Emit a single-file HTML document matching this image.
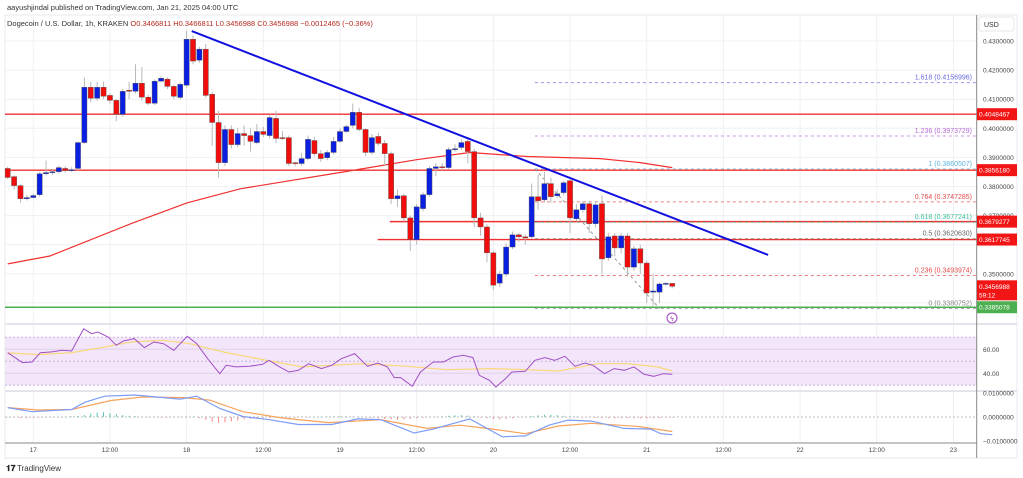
<!DOCTYPE html>
<html><head><meta charset="utf-8"><style>
body{margin:0;background:#fff;width:1023px;height:478px;overflow:hidden}
svg{display:block;font-family:"Liberation Sans",sans-serif}
</style></head><body>
<svg id="c" width="1023" height="478" viewBox="0 0 1023 478">
<text x="7" y="10" font-size="7.5" fill="#333">aayushjindal published on TradingView.com, Jan 21, 2025 04:00 UTC</text>
<rect x="5" y="15" width="1012" height="443" fill="none" stroke="#e6e8ee"/>
<g id="grid"></g>
<g id="main"></g>
<g id="rsi"></g>
<g id="macd"></g>
<g id="axes"></g>
<text x="7" y="26" font-size="7.5" fill="#333">Dogecoin / U.S. Dollar, 1h, KRAKEN <tspan fill="#b52a1f">O0.3466811  H0.3466811  L0.3456988  C0.3456988  −0.0012465 (−0.36%)</tspan></text>
<g><text x="6" y="471" font-size="8.5" font-weight="bold" fill="#222">𝟏𝟕</text><text x="17" y="471" font-size="8" fill="#333">TradingView</text></g>
</svg>
<script>
const opens=[.3862,.3834,.3803,.3758,.3762,.3772,.3844,.3848,.3851,.3862,.3855,.3862,.3951,.4141,.4103,.4141,.4113,.4096,.4048,.4131,.4127,.4155,.4107,.4086,.4162,.4169,.4144,.4106,.4148,.4306,.4234,.4272,.4117,.4020,.3882,.3996,.3944,.3982,.3975,.3951,.3989,.3975,.4034,.3968,.3968,.3882,.3879,.3896,.3958,.3913,.3899,.3917,.3955,.3989,.4010,.4055,.3996,.3917,.3972,.3948,.3913,.3758,.3768,.3692,.3617,.3724,.3772,.3862,.3868,.3865,.3927,.3934,.3955,.3920,.3692,.3661,.3572,.3468,.3499,.3592,.3634,.3627,.3627,.3765,.3754,.3810,.3768,.3779,.3820,.3689,.3720,.3741,.3672,.3741,.3555,.3630,.3589,.3630,.3523,.3586,.3537,.3437,.3437,.3465,.3467];
const closes=[.3831,.3803,.3758,.3762,.3769,.3844,.3848,.3851,.3865,.3855,.3858,.3951,.4141,.4103,.4141,.4110,.4096,.4048,.4127,.4127,.4155,.4107,.4086,.4162,.4172,.4144,.4110,.4151,.4306,.4231,.4272,.4113,.4020,.3882,.3996,.3944,.3982,.3975,.3955,.3989,.3979,.4037,.3965,.3965,.3879,.3879,.3896,.3962,.3913,.3896,.3917,.3955,.3989,.4006,.4055,.3996,.3917,.3968,.3948,.3913,.3758,.3768,.3692,.3617,.3730,.3772,.3862,.3868,.3865,.3927,.3930,.3951,.3920,.3692,.3661,.3572,.3461,.3499,.3592,.3634,.3627,.3623,.3765,.3751,.3810,.3765,.3775,.3813,.3692,.3720,.3741,.3672,.3737,.3551,.3627,.3589,.3630,.3523,.3586,.3537,.3434,.3441,.3465,.3467,.3457];
const highs=[.3868,.3838,.3808,.3770,.3775,.3850,.3889,.3860,.3872,.3870,.3866,.3955,.4175,.4160,.4160,.4160,.4120,.4100,.4135,.4160,.4220,.4210,.4115,.4168,.4178,.4175,.4150,.4158,.4335,.4320,.4280,.4290,.4125,.4060,.4010,.4010,.4000,.4010,.4000,.4015,.4005,.4048,.4060,.3990,.3975,.3885,.3915,.3975,.3970,.3925,.3925,.3970,.4000,.4012,.4085,.4070,.4000,.3980,.3985,.3960,.3920,.3790,.3775,.3700,.3740,.3780,.3870,.3880,.3880,.3935,.3945,.3962,.3970,.3930,.3710,.3670,.3580,.3510,.3605,.3645,.3640,.3635,.3810,.3840,.3850,.3830,.3790,.3820,.3830,.3740,.3750,.3750,.3750,.3770,.3640,.3640,.3640,.3640,.3595,.3600,.3545,.3500,.3470,.3472,.3468];
const lows=[.3825,.3790,.3744,.3752,.3760,.3765,.3838,.3840,.3845,.3848,.3850,.3855,.3945,.4090,.4095,.4100,.4085,.4025,.4040,.4100,.4120,.4095,.4080,.4080,.4160,.4135,.4100,.4100,.4140,.4220,.4225,.4105,.3940,.3830,.3870,.3930,.3935,.3940,.3920,.3945,.3970,.3965,.3950,.3960,.3870,.3870,.3870,.3890,.3905,.3885,.3890,.3910,.3950,.3985,.4000,.3990,.3905,.3910,.3940,.3870,.3740,.3730,.3680,.3579,.3600,.3715,.3765,.3835,.3855,.3860,.3920,.3925,.3880,.3660,.3630,.3540,.3444,.3455,.3490,.3585,.3610,.3600,.3620,.3720,.3745,.3745,.3760,.3770,.3640,.3680,.3710,.3640,.3660,.3500,.3545,.3560,.3570,.3490,.3510,.3500,.3400,.3390,.3400,.3460,.3450];
const maIdx=[0,6.6,19.6,28.1,36.4,52,64,72.3,81.3,92.7,99,104];
const maVal=[.3534,.3561,.3675,.3744,.3792,.3848,.3892,.3917,.3903,.3896,.3882,.3865];
const priceTicks=[0.43,0.42,0.41,0.40,0.39,0.38,0.37,0.35];
const timeTickIdx=[4,16,28,40,52,64,76,88,100,112,124,136,148];
const timeTickLabels=["17","12:00","18","12:00","19","12:00","20","12:00","21","12:00","22","12:00","23"];
const hLevels=[0.4048467,0.3856180,0.3679277,0.3617745];
const hStartIdx=[-1,-1,59.8,57.9];
const supportLevel=0.3385078;
const fibRatios=["1.618","1.236","1","0.764","0.618","0.5","0.236","0"];
const fibPrices=[0.4156996,0.3973729,0.3860507,0.3747285,0.3677241,0.3620630,0.3493974,0.3380752];
const fibColors=["#6a6ae0","#b56ad8","#5bb4e0","#e24a4a","#3fbf9b","#666","#e24a4a","#888"];
const trendIdx=[28.8,119];const trendVal=[0.4334,0.3565];
const rsiIdx=[0,2.3,3.8,5.1,6.9,8.5,10,11.9,13.1,14.1,15.7,17,18.1,19.8,21.4,22.9,24.4,26,28.1,29.6,31.4,33.2,34.2,35.7,37.8,39.9,40.9,42.4,44,45.5,47.1,49.1,50.7,52.2,54.3,56.3,57.9,59.4,60.5,61.5,63.3,64.6,65.6,66.6,68.2,69.7,71.3,72.8,73.8,75.4,76.4,77.9,78.9,81,82.5,84.1,85.6,87.2,88.8,90.3,91.6,93.4,94.9,96.5,98,99.6,101.1,102.6,104];
const rsiVal=[57.2,48.9,49.4,57.2,57.8,59.2,58.6,77.2,73,74.4,70.3,63.3,66.9,68.9,61.4,66.1,64.7,59.2,70.8,64.7,51.4,39.7,46.7,45.3,45.8,47.5,50.8,45.8,41.1,42.5,48,43.9,46.7,52.2,56.4,45.8,48.6,45.3,36.4,36.4,29.2,41.1,45.3,49.4,49.4,53.6,55,53.1,38.3,34.2,28.6,35.6,41.1,41.7,50.8,53.1,50.8,54.2,45.8,48.6,46.7,39.7,43.9,42.5,45.3,39.2,37.5,39.7,39.2];
const rsiMaIdx=[0,4.8,10,15.2,19.3,24.4,28.5,33.7,39.9,46,55.4,62.5,68.7,75.9,81.1,86.2,92.4,97,101.7,104];
const rsiMaVal=[57,55.6,57.2,61.9,66.1,67.5,64.7,57.8,51.4,45.3,48,45.8,43,43.9,43,41.9,48,48,45.3,41.9];
const macdIdx=[0,3.8,10,12.1,15.2,19.8,24.4,27,29.6,33.2,36.8,40.9,45.5,50.7,54.8,58.4,63.6,66.6,72.3,77.4,81,84.7,87.7,91.3,96.5,100.6,102.2,104];
const macdVal=[.0039,.0022,.0031,.0061,.0086,.0091,.0080,.0074,.0086,.0035,.0002,-.0011,-.0031,-.0031,-.0008,-.0011,-.0066,-.0050,-.0008,-.0082,-.0078,-.0034,-.0013,-.0017,-.0047,-.0050,-.0069,-.0073];
const sigIdx=[0,4.8,10,16.2,21.3,27.5,31.6,36.8,43,50.2,58.4,65.6,70.8,75.9,81,86.2,91.3,98.5,104];
const sigVal=[.0039,.0029,.0031,.0068,.0083,.0080,.0070,.0022,-.0004,-.0023,-.0011,-.0047,-.0034,-.0050,-.0069,-.0037,-.0026,-.0039,-.0060];
const histVal=[0,-.0003,-.0004,-.0005,-.0003,-.0002,-.0001,0,0,.0001,.0002,.0004,.0008,.0014,.0018,.0020,.0016,.0012,.0008,.0005,.0003,.0001,.0001,.0001,-.0001,-.0001,.0001,.0001,.0002,.0001,-.0004,-.0012,-.0020,-.0024,-.0022,-.0018,-.0014,-.0010,-.0008,-.0006,-.0005,-.0004,-.0003,-.0002,-.0002,-.0001,-.0001,-.0001,0,.0001,.0002,.0003,.0004,.0003,.0002,.0001,-.0001,-.0003,-.0006,-.0008,-.0010,-.0011,-.0010,-.0008,-.0005,-.0003,-.0001,.0001,.0003,.0005,.0007,.0008,.0006,.0003,-.0002,-.0005,-.0008,-.0010,-.0008,-.0005,-.0002,.0001,.0004,.0007,.0009,.0010,.0008,.0005,.0003,.0001,-.0001,-.0002,-.0003,-.0004,-.0005,-.0006,-.0005,-.0004,-.0005,-.0006,-.0007,-.0005,-.0004,-.0003,-.0003];

const NS="http://www.w3.org/2000/svg";
function mk(tag,attrs,parent){const e=document.createElementNS(NS,tag);for(const k in attrs)e.setAttribute(k,attrs[k]);parent.appendChild(e);return e;}
const X0=7.7,DX=6.39,RIGHT=976.7,LEFT=5;
const xs=i=>X0+DX*i;
const yP=p=>41+(0.43-p)*2910;
const yR=v=>349.3+(60-v)*1.2;
const yM=v=>417-v*2420;
const G=document.getElementById('grid'),M=document.getElementById('main'),R=document.getElementById('rsi'),MC=document.getElementById('macd'),A=document.getElementById('axes');

// grid
[0.43,0.42,0.41,0.40,0.39,0.38,0.37,0.36,0.35,0.34].forEach(p=>{const l=mk('line',{x1:LEFT,x2:RIGHT,y1:yP(p),y2:yP(p),stroke:'#eef0f4'},G);});
timeTickIdx.forEach(i=>{const l=mk('line',{x1:xs(i),x2:xs(i),y1:16,y2:443,stroke:'#eef0f4'},G);});
// pane separators
[324,391].forEach(y=>{const l=mk('line',{x1:LEFT,x2:1017,y1:y,y2:y,stroke:'#e3e5ea','stroke-width':2},G);});

// horizontal levels
hLevels.forEach((p,k)=>{const l=mk('line',{x1:hStartIdx[k]<0?LEFT:xs(hStartIdx[k]),x2:RIGHT,y1:yP(p),y2:yP(p),stroke:'#f03030','stroke-width':1.4},M);});
{const l=mk('line',{x1:LEFT,x2:RIGHT,y1:yP(supportLevel),y2:yP(supportLevel),stroke:'#4caf50','stroke-width':1.4},M);}
// fib
const fibStart=82.5;
fibPrices.forEach((p,k)=>{const y=yP(p);const l=mk('line',{x1:xs(fibStart),x2:RIGHT,y1:y,y2:y,stroke:fibColors[k],'stroke-dasharray':'3 3','stroke-opacity':0.7},M);
const t=mk('text',{x:972,y:y-3,'text-anchor':'end','font-size':7,fill:fibColors[k]},M);t.textContent=fibRatios[k]+' ('+p.toFixed(7)+')';});
{const l=mk('line',{x1:xs(fibStart),y1:yP(fibPrices[2]),x2:xs(102),y2:yP(fibPrices[7]),stroke:'#999','stroke-dasharray':'3 3'},M);}
// MA
{let d='';maIdx.forEach((i,k)=>{d+=(k?'L':'M')+xs(i).toFixed(1)+','+yP(maVal[k]).toFixed(1);});const p=mk('path',{d:d,fill:'none',stroke:'#f23030','stroke-width':1.2},M);}
// candles
opens.forEach((o,i)=>{const c=closes[i];const up=c>=o;const col=up?'#0a1fe0':'#f20d0d';const x=xs(i);
const w=mk('line',{x1:x,x2:x,y1:yP(highs[i]),y2:yP(lows[i]),stroke:'#b8b8b8','stroke-width':1},M);
const top=yP(Math.max(o,c)),bot=yP(Math.min(o,c));
const r=mk('rect',{x:x-2.6,y:top,width:5.2,height:Math.max(1,bot-top),fill:col,stroke:'#555','stroke-width':0.4},M);});
// trendline
{const l=mk('line',{x1:xs(trendIdx[0]),y1:yP(trendVal[0]),x2:xs(trendIdx[1]),y2:yP(trendVal[1]),stroke:'#1010e0','stroke-width':2},M);}
// flash icon
{const g=mk('g',{},M);mk('circle',{cx:672,cy:318,r:5,fill:'none',stroke:'#a040c0','stroke-width':1},g);const t=mk('text',{x:672,y:321,'text-anchor':'middle','font-size':7,fill:'#a040c0'},g);t.textContent='ϟ';}

// RSI
{const b=mk('rect',{x:LEFT,y:yR(70),width:RIGHT-LEFT,height:yR(30)-yR(70),fill:'#f3e6fb'},R);
[70,50,30].forEach(v=>{const l=mk('line',{x1:LEFT,x2:RIGHT,y1:yR(v),y2:yR(v),stroke:'#c9b3dc','stroke-dasharray':'2 2'},R);});
[60,40].forEach(v=>{const l=mk('line',{x1:LEFT,x2:RIGHT,y1:yR(v),y2:yR(v),stroke:'#e0d2ea'},R);});
let d='';rsiMaIdx.forEach((i,k)=>{d+=(k?'L':'M')+xs(i).toFixed(1)+','+yR(rsiMaVal[k]).toFixed(1);});const p=mk('path',{d:d,fill:'none',stroke:'#f8d878','stroke-width':1.2},R);
d='';rsiIdx.forEach((i,k)=>{d+=(k?'L':'M')+xs(i).toFixed(1)+','+yR(rsiVal[k]).toFixed(1);});const q=mk('path',{d:d,fill:'none',stroke:'#a24fc4','stroke-width':1},R);}

// MACD
{const z=mk('line',{x1:LEFT,x2:RIGHT,y1:yM(0),y2:yM(0),stroke:'#bbb','stroke-dasharray':'2 2'},MC);
histVal.forEach((v,i)=>{const y0=yM(0),y1=yM(v);const r=mk('rect',{x:xs(i)-0.5,y:Math.min(y0,y1),width:1,height:Math.max(0.5,Math.abs(y1-y0)),fill:v>=0?'#5cc2b0':'#f58a8a'},MC);});
let d='';sigIdx.forEach((i,k)=>{d+=(k?'L':'M')+xs(i).toFixed(1)+','+yM(sigVal[k]).toFixed(1);});const p=mk('path',{d:d,fill:'none',stroke:'#f7a35c','stroke-width':1.2},MC);
d='';macdIdx.forEach((i,k)=>{d+=(k?'L':'M')+xs(i).toFixed(1)+','+yM(macdVal[k]).toFixed(1);});const q=mk('path',{d:d,fill:'none',stroke:'#7c9cf5','stroke-width':1.2},MC);}

// axes
{const l=mk('line',{x1:RIGHT,x2:RIGHT,y1:15,y2:458,stroke:'#888'},A);
const l2=mk('line',{x1:LEFT,x2:RIGHT,y1:443,y2:443,stroke:'#888'},A);
const u=mk('rect',{x:979,y:17,width:35,height:14,rx:2,fill:'#fff',stroke:'#e6e6e6'},A);
const ut=mk('text',{x:984,y:27,'font-size':7,fill:'#333'},A);ut.textContent='USD';}
priceTicks.forEach(p=>{const t=mk('text',{x:983,y:yP(p)+2.5,'font-size':6.5,fill:'#444'},A);t.textContent=p.toFixed(7);});
[[60,'60.00'],[40,'40.00']].forEach(a=>{const t=mk('text',{x:983,y:yR(a[0])+2.5,'font-size':6.5,fill:'#444'},A);t.textContent=a[1];});
[[0.01,'0.0100000'],[0,'0.0000000'],[-0.01,'−0.0100000']].forEach(a=>{const t=mk('text',{x:983,y:yM(a[0])+2.5,'font-size':6.5,fill:'#444'},A);t.textContent=a[1];});
const priceTags=[0.4048467,0.3856180,0.3679277,0.3617745];
priceTags.forEach(p=>{const y=yP(p);const r=mk('rect',{x:977,y:y-6,width:40,height:12,fill:'#f21515'},A);const t=mk('text',{x:979,y:y+2.5,'font-size':6.5,fill:'#fff'},A);t.textContent=p.toFixed(7);});
{const y=yP(0.3456988);const r=mk('rect',{x:977,y:y-6,width:40,height:20,fill:'#f21515'},A);const t=mk('text',{x:979,y:y+2.5,'font-size':6.5,fill:'#fff'},A);t.textContent='0.3456988';const t2=mk('text',{x:979,y:y+11,'font-size':6.5,fill:'#fff'},A);t2.textContent='59:12';}
{const y=yP(supportLevel);const r=mk('rect',{x:977,y:y-6,width:40,height:12,fill:'#4caf50'},A);const t=mk('text',{x:979,y:y+2.5,'font-size':6.5,fill:'#fff'},A);t.textContent=supportLevel.toFixed(7);}
timeTickIdx.forEach((i,k)=>{const t=mk('text',{x:xs(i),y:452,'text-anchor':'middle','font-size':6.5,fill:'#444'},A);t.textContent=timeTickLabels[k];});
</script>
</body></html>
